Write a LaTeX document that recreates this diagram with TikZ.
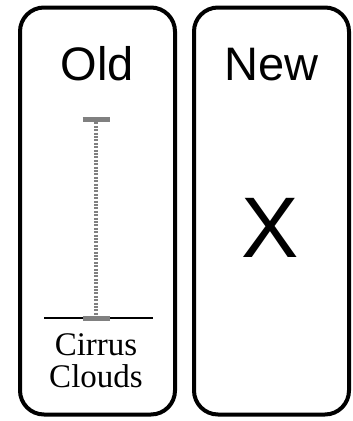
\documentclass[tikz,border=0pt]{standalone}
\usepackage{fontspec}
\setmainfont{Liberation Sans}
\newfontfamily\serifface{Liberation Serif}
\usetikzlibrary{positioning}

\begin{document}
\begin{tikzpicture}[
      x = 1pt, y = -1pt,
      panel/.style={
        draw = black,
        line width = 4pt,
        rounded corners = 24pt,
        minimum width = 155pt,
        minimum height = 407pt,
        inner sep = 0pt,
      },
      heading/.style={
        anchor = base,
        inner sep = 0pt,
        font = \fontsize{47}{50}\selectfont,
      },
      caption/.style={
        anchor = base,
        inner sep = 0pt,
        font = \serifface\fontsize{33}{33}\selectfont,
      },
      bar cap/.style={draw = black!50, line width = 5pt},
      bar line/.style={draw = black!50, line width = 4.5pt, dash pattern = on 2pt off 1.4pt},
    ]
    \useasboundingbox (0, 0) rectangle (353, 421);

    \node[panel] (old) at (97.5, 211) {};
    \node[panel] (new) at (271.5, 211) {};

    \node[heading] (oldlabel) at (97.5, 80) {Old};
    \node[heading] (newlabel) at (271.5, 80) {New};
    \node[heading, font = \fontsize{86}{90}\selectfont] (cross) at (270, 257) {X};

    % range bar over the baseline
    \coordinate (top) at (96, 119);
    \coordinate (bottom) at (96, 318);
    \draw[line width = 2pt] (44, 318) coordinate (base west) -- (153, 318) coordinate (base east);
    \draw[bar line] (top) -- (bottom);
    \draw[bar cap] ([xshift = -13.5pt]top) -- ([xshift = 13.5pt]top);
    \draw[bar cap] ([xshift = -13.5pt]bottom) -- ([xshift = 13.5pt]bottom);

    \node[caption] (cirrus) at (96, 355) {Cirrus};
    \node[caption] (clouds) at (96, 387) {Clouds};
  \end{tikzpicture}
\end{document}
